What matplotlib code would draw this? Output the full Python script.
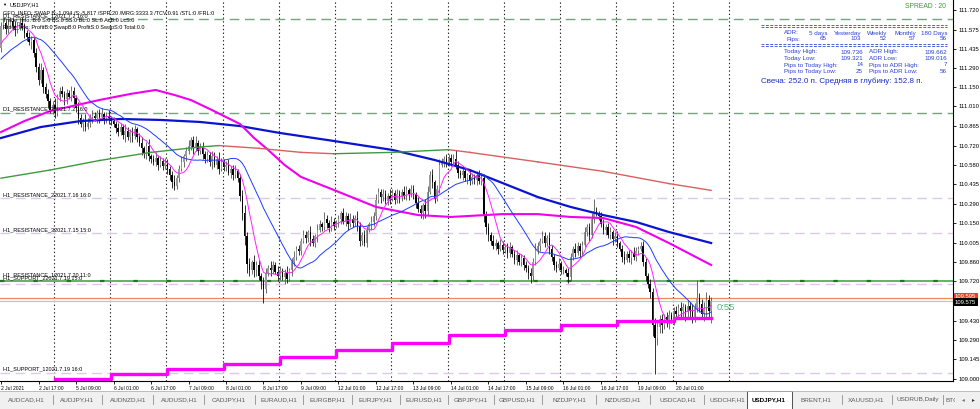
import matplotlib
matplotlib.use("Agg")
import matplotlib.pyplot as plt
from matplotlib.patches import Rectangle
from matplotlib.lines import Line2D
import numpy as np
import pandas as pd

plt.rcParams['font.family'] = ['Liberation Sans', 'DejaVu Sans']

#DATOS

#cierres H1 desde 2 Jul 01:00 (16 barras por fila)
closes = [
    111.60, 111.62, 111.58, 111.61, 111.64, 111.60, 111.57, 111.60, 111.62, 111.59, 111.55, 111.52, 111.48, 111.50, 111.40, 111.30,
    111.20, 111.28, 111.15, 111.10, 111.05, 110.98, 111.02, 110.96, 111.08, 111.12, 111.10, 111.06, 111.11, 111.08, 111.12, 111.07,
    111.00, 110.92, 110.88, 110.90, 110.86, 110.89, 110.93, 110.94, 110.92, 110.96, 110.93, 110.95, 110.91, 110.94, 110.92, 110.90,
    110.88, 110.85, 110.82, 110.86, 110.80, 110.83, 110.78, 110.82, 110.79, 110.84, 110.78, 110.74, 110.70, 110.66, 110.72, 110.64,
    110.62, 110.60, 110.63, 110.58, 110.61, 110.57, 110.59, 110.55, 110.50, 110.45, 110.42, 110.48, 110.55, 110.60, 110.64, 110.68,
    110.72, 110.76, 110.70, 110.74, 110.68, 110.71, 110.66, 110.62, 110.65, 110.60, 110.64, 110.58, 110.62, 110.55, 110.60, 110.56,
    110.58, 110.52, 110.55, 110.50, 110.53, 110.48, 110.35, 110.22, 110.05, 109.85, 109.80, 109.86, 109.80, 109.84, 109.76, 109.72,
    109.66, 109.78, 109.82, 109.80, 109.84, 109.79, 109.76, 109.80, 109.75, 109.78, 109.74, 109.80, 109.86, 109.90, 109.96, 109.94,
    110.02, 110.06, 110.04, 110.08, 110.03, 110.00, 110.05, 110.10, 110.14, 110.12, 110.18, 110.15, 110.11, 110.16, 110.13, 110.15,
    110.18, 110.22, 110.16, 110.20, 110.14, 110.18, 110.15, 110.19, 110.13, 110.02, 110.06, 110.00, 110.10, 110.14, 110.16, 110.20,
    110.32, 110.38, 110.34, 110.36, 110.31, 110.35, 110.33, 110.37, 110.32, 110.36, 110.34, 110.38, 110.35, 110.39, 110.36, 110.40,
    110.36, 110.30, 110.25, 110.22, 110.28, 110.24, 110.38, 110.50, 110.45, 110.33, 110.40, 110.58, 110.60, 110.62, 110.59, 110.63,
    110.60, 110.62, 110.58, 110.52, 110.50, 110.53, 110.48, 110.50, 110.46, 110.49, 110.47, 110.50, 110.46, 110.48, 110.20, 110.12,
    110.06, 110.02, 109.98, 110.00, 109.96, 109.99, 109.95, 109.97, 109.93, 109.97, 109.92, 109.88, 109.91, 109.86, 109.89, 109.84,
    109.82, 109.78, 109.76, 109.86, 109.95, 109.98, 110.02, 110.05, 110.00, 110.04, 109.96, 109.90, 109.84, 109.82, 109.85, 109.80,
    109.80, 109.78, 109.75, 109.90, 109.96, 109.93, 109.98, 109.94, 109.99, 110.08, 110.12, 110.06, 110.18, 110.24, 110.22, 110.20,
    110.14, 110.10, 110.12, 110.06, 110.08, 110.03, 110.05, 110.00, 109.96, 109.90, 109.88, 109.92, 109.89, 109.93, 109.90, 109.94,
    109.96, 109.98, 109.86, 109.76, 109.70, 109.64, 109.40, 109.30, 109.38, 109.44, 109.40, 109.46, 109.42, 109.47, 109.44, 109.50,
    109.48, 109.52, 109.50, 109.53, 109.49, 109.54, 109.50, 109.46, 109.52, 109.60, 109.55, 109.48, 109.52, 109.58, 109.50, 109.575,
]

#mechas en pips (0.01)
wick_up = [
    3, 4, 2, 5, 3, 2, 4, 3, 2, 5, 3, 2, 4, 3, 2, 4,
    3, 5, 2, 3, 4, 2, 3, 5, 2, 3, 4, 2, 3, 2, 4, 3,
    2, 4, 3, 2, 5, 3, 2, 4, 3, 2, 3, 5, 2, 3, 4, 2,
    3, 2, 4, 3, 2, 5, 3, 2, 4, 3, 2, 3, 4, 2, 3, 5,
    2, 3, 4, 2, 3, 2, 4, 3, 2, 3, 5, 2, 3, 4, 2, 3,
    4, 2, 3, 5, 2, 3, 4, 2, 3, 2, 4, 3, 2, 5, 3, 2,
    3, 4, 2, 3, 5, 2, 3, 4, 6, 3, 4, 2, 5, 3, 4, 2,
    3, 4, 2, 5, 3, 2, 4, 3, 2, 3, 5, 2, 3, 4, 2, 3,
    2, 4, 3, 2, 5, 3, 2, 4, 3, 2, 5, 3, 2, 4, 3, 2,
    3, 2, 4, 3, 2, 4, 3, 2, 5, 3, 2, 4, 3, 2, 4, 3,
    4, 3, 2, 4, 3, 2, 5, 3, 2, 4, 3, 2, 4, 3, 2, 3,
    3, 2, 4, 3, 2, 5, 4, 3, 5, 2, 3, 4, 3, 2, 4, 3,
    3, 4, 7, 3, 2, 4, 3, 2, 4, 3, 2, 3, 4, 2, 3, 4,
    3, 2, 4, 3, 2, 4, 3, 2, 3, 4, 2, 3, 4, 2, 3, 2,
    3, 2, 4, 3, 5, 3, 2, 4, 3, 2, 4, 3, 2, 3, 4, 2,
    3, 2, 4, 3, 2, 4, 3, 2, 3, 4, 2, 3, 4, 9, 3, 2,
    3, 4, 2, 3, 4, 2, 3, 4, 2, 3, 4, 2, 3, 2, 4, 3,
    2, 3, 4, 3, 2, 4, 3, 5, 4, 3, 4, 2, 3, 4, 2, 3,
    4, 3, 5, 3, 2, 4, 3, 5, 4, 13, 3, 4, 5, 6, 4, 3,
]
wick_dn = [
    3, 2, 4, 3, 2, 3, 4, 2, 3, 2, 4, 3, 2, 5, 3, 4,
    3, 2, 4, 3, 5, 2, 3, 4, 2, 3, 2, 4, 3, 2, 3, 4,
    3, 4, 2, 5, 3, 2, 3, 4, 2, 3, 4, 2, 3, 2, 4, 3,
    2, 4, 3, 2, 3, 5, 2, 3, 4, 2, 3, 2, 5, 3, 4, 3,
    3, 2, 3, 4, 2, 3, 2, 4, 3, 4, 3, 2, 3, 2, 4, 3,
    2, 3, 4, 2, 3, 2, 4, 3, 2, 3, 5, 2, 3, 4, 2, 3,
    3, 2, 4, 3, 2, 3, 4, 5, 6, 7, 4, 3, 5, 4, 3, 6,
    10, 3, 2, 4, 3, 2, 4, 3, 2, 5, 3, 2, 4, 3, 2, 3,
    3, 2, 4, 3, 5, 2, 3, 4, 2, 3, 2, 4, 3, 2, 3, 2,
    3, 4, 2, 3, 4, 2, 3, 2, 4, 4, 3, 2, 3, 2, 4, 3,
    3, 2, 4, 3, 2, 3, 4, 2, 3, 2, 4, 3, 2, 3, 4, 2,
    3, 4, 2, 3, 4, 5, 3, 2, 4, 3, 2, 3, 2, 4, 3, 2,
    3, 2, 3, 4, 2, 3, 2, 4, 3, 2, 3, 4, 2, 3, 4, 5,
    4, 3, 2, 3, 4, 2, 3, 2, 4, 3, 2, 3, 4, 2, 3, 4,
    3, 4, 5, 3, 2, 3, 4, 2, 3, 2, 4, 3, 4, 3, 2, 3,
    3, 2, 4, 3, 2, 3, 2, 4, 3, 2, 3, 4, 2, 3, 2, 3,
    2, 3, 4, 2, 3, 4, 2, 3, 2, 4, 3, 2, 3, 4, 2, 3,
    3, 2, 3, 4, 3, 4, 8, 26, 5, 4, 6, 3, 4, 5, 3, 4,
    4, 3, 5, 4, 6, 3, 4, 5, 4, 3, 6, 4, 5, 7, 4, 9,
]

#cierres previos al inicio del gráfico (para las medias)
pre_closes = [111.18, 111.22, 111.26, 111.24, 111.30, 111.28, 111.33, 111.30, 111.27, 111.31, 111.35, 111.32,
              111.30, 111.36, 111.38, 111.42, 111.40, 111.45, 111.43, 111.48, 111.46, 111.50, 111.44]

#medias lentas (barra, precio)
blue_slow_bars = [0, 17, 34, 51, 68, 85, 102, 119, 142, 167, 185, 200, 214, 229, 243, 257, 271, 285, 303]
blue_slow_vals = [110.776, 110.857, 110.901, 110.916, 110.909, 110.894, 110.864, 110.813, 110.754, 110.688,
                  110.614, 110.540, 110.444, 110.341, 110.268, 110.208, 110.157, 110.083, 110.002]
mag_slow_bars = [0, 10, 21, 42, 55, 66, 74, 81, 90, 102, 108, 114, 121, 128, 142, 160, 178, 192, 214, 229, 243, 257, 271, 285, 303]
mag_slow_vals = [110.820, 110.901, 110.975, 111.056, 111.100, 111.130, 111.093, 111.056, 110.982, 110.879, 110.776,
                 110.688, 110.577, 110.489, 110.393, 110.268, 110.208, 110.194, 110.215, 110.215, 110.194, 110.186,
                 110.120, 110.002, 109.840]
trend_bars = [0, 21, 42, 64, 85, 93, 110, 128, 142, 167, 191, 200, 229, 257, 285, 303]
trend_vals = [110.48, 110.54, 110.61, 110.67, 110.71, 110.72, 110.70, 110.67, 110.66, 110.67, 110.69, 110.67,
              110.60, 110.53, 110.44, 110.39]

#soporte diario escalonado
support_bars = [23, 47, 71, 95, 119, 143, 167, 191, 215, 239, 263, 287, 303]
support_vals = [109.000, 109.037, 109.074, 109.111, 109.162, 109.214, 109.265, 109.324, 109.361, 109.398,
                109.427, 109.450, 109.450]

#niveles
d1_levels = [111.653, 110.960]
h1_levels = [110.334, 110.076, 109.700, 109.044]
green_level = 109.72
ask_price = 109.595
bid_price = 109.575

day_start_bars = [23, 47, 71, 95, 119, 143, 167, 191, 215, 239, 263, 287, 311]
time_label_bars = [0, 16, 32, 48, 64, 80, 96, 112, 128, 144, 160, 176, 192, 208, 224, 240, 256, 272, 288]
time_labels = ["2 Jul 2021", "2 Jul 17:00", "5 Jul 09:00", "6 Jul 01:00", "6 Jul 17:00", "7 Jul 09:00",
               "8 Jul 01:00", "8 Jul 17:00", "9 Jul 09:00", "12 Jul 01:00", "12 Jul 17:00", "13 Jul 09:00",
               "14 Jul 01:00", "14 Jul 17:00", "15 Jul 09:00", "16 Jul 01:00", "16 Jul 17:00", "19 Jul 09:00",
               "20 Jul 01:00"]
price_ticks = [111.720, 111.575, 111.435, 111.290, 111.150, 111.010, 110.865, 110.720, 110.580, 110.435,
               110.290, 110.150, 110.005, 109.860, 109.720, 109.430, 109.290, 109.145, 109.000]

tab_names = ["AUDCAD,H1", "AUDJPY,H1", "AUDNZD,H1", "AUDUSD,H1", "CADJPY,H1", "EURAUD,H1", "EURGBP,H1",
             "EURJPY,H1", "EURUSD,H1", "GBPJPY,H1", "GBPUSD,H1", "NZDJPY,H1", "NZDUSD,H1", "USDCAD,H1",
             "USDCHF,H1", "USDJPY,H1", "BRENT,H1", "XAUUSD,H1", "USDRUB,Daily", "BTC"]
ACTIVE_TAB = "USDJPY,H1"

adr_heads = ["5 days", "Yesterday", "Weekly", "Monthly", "180 Days"]
adr_pips = ["65", "103", "52", "57", "56"]

#LAYOUT
W, H = 980, 409
TAB_X = [26, 77, 128, 179, 229, 279, 328, 376, 424, 471, 517, 569, 623, 678, 727, 769, 816, 866, 918, 951]
TAB_SEP = [53, 102, 153, 204, 255, 303, 352, 400, 448, 494, 542, 596, 650, 704, 842, 892, 943]
ADR_COL_X = [827, 861, 887, 916, 947]
FS = 4.0


def px(x, y):
    return x / W, 1 - y / H


def ftext(x, y, s, **kw):
    kw.setdefault('fontsize', FS)
    kw.setdefault('va', 'center')
    return fig.text(*px(x, y), s, **kw)


fig = plt.figure(figsize=(W / 100, H / 100), dpi=100)
ax = fig.add_axes([0, 28 / H, 953 / W, 381 / H])
ax.set_xlim(-0.43, 406.2)
ax.set_ylim(108.985, 111.793)

#velas
c = np.array(closes)
o = np.concatenate([[pre_closes[-1]], c[:-1]])
hi = np.maximum(o, c) + np.array(wick_up) / 100
lo = np.minimum(o, c) - np.array(wick_dn) / 100
idx = np.arange(len(c))
bull = c >= o
ax.vlines(idx[bull], lo[bull], hi[bull], color='#555555', lw=0.6, zorder=3)
ax.vlines(idx[~bull], lo[~bull], hi[~bull], color='#111111', lw=0.6, zorder=3)
body = np.maximum(np.abs(c - o), 0.004)
ax.bar(idx[bull], body[bull], bottom=np.minimum(o, c)[bull], width=0.62, color='#9a9a9a', zorder=4)
ax.bar(idx[~bull], body[~bull], bottom=np.minimum(o, c)[~bull], width=0.62, color='#000000', zorder=4)

#medias rápidas
serie = pd.Series(pre_closes + closes)
sma24 = serie.rolling(24).mean().to_numpy()[len(pre_closes):]
sma8 = serie.rolling(8).mean().to_numpy()[len(pre_closes):]
ax.plot(idx, sma24, color='#1f3cff', lw=0.7, zorder=6)
ax.plot(idx, sma8, color='#ff22ff', lw=0.7, zorder=6)

#medias lentas
ax.plot(blue_slow_bars, blue_slow_vals, color='#0a14d0', lw=1.6, zorder=5)
ax.plot(mag_slow_bars, mag_slow_vals, color='#f000f0', lw=1.5, zorder=5)
for i in range(len(trend_bars) - 1):
    col = '#3f9a3f' if trend_vals[i + 1] >= trend_vals[i] else '#d86060'
    ax.plot(trend_bars[i:i + 2], trend_vals[i:i + 2], color=col, lw=1.0, zorder=5)

ax.plot(support_bars, support_vals, drawstyle='steps-post', color='#ff00ff', lw=2.4, zorder=5)

#niveles horizontales
for lvl in d1_levels:
    ax.axhline(lvl, color='#72a682', lw=1.0, ls=(0, (7, 4)), zorder=2)
for lvl in h1_levels:
    ax.axhline(lvl, color='#dcc8e8', lw=1.0, ls=(0, (7, 4)), zorder=2)
ax.axhline(green_level, color='#3c9c3c', lw=1.1, zorder=2)
ax.axhline(green_level, color='#1c7a1c', lw=1.6, ls=(0, (2, 13)), zorder=2)
ax.axhline(ask_price, color='#ee8a5a', lw=0.9, zorder=2)
ax.axhline(bid_price, color='#c4c4c4', lw=0.9, zorder=2)

#separadores de días
for b in day_start_bars:
    ax.axvline(b - 0.45, color='#222222', lw=0.8, ls=(0, (1.2, 2.2)), zorder=1)

ax.text(len(c) + 1.5, 109.53, "0:55", color='#5cb67e', fontsize=6.8, va='center', zorder=7)

#ejes
for s in ['top', 'left']:
    ax.spines[s].set_visible(False)
ax.spines['right'].set_linewidth(0.8)
ax.spines['bottom'].set_linewidth(0.8)
ax.yaxis.tick_right()
ax.set_yticks(price_ticks)
ax.set_yticklabels([f"{v:.3f}" for v in price_ticks])
ax.tick_params(axis='y', length=2, width=0.6, pad=2, labelsize=4.2)
ax.set_xticks(time_label_bars)
ax.set_xticklabels(time_labels)
ax.tick_params(axis='x', length=2, width=0.6, pad=1.5, labelsize=3.6)
for lab in ax.get_xticklabels():
    lab.set_ha('left')

#cajas de precio
ftext(955, 297, "109.595", color='white', fontsize=4.2,
      bbox=dict(boxstyle='square,pad=0.25', fc='#e8461a', ec='none'))
ftext(955, 302, "109.575", color='white', fontsize=4.2,
      bbox=dict(boxstyle='square,pad=0.25', fc='black', ec='none'))

#textos arriba a la izquierda
ftext(2, 5, "▼", fontsize=3)
ftext(10, 5, "USDJPY,H1")
ftext(3, 13, "GFO_INFO: SWAP B:-1.094 /S:-5.817 /SPR:20 /MRG:3333.3 /TCV:0.91 /STL:0 /FRL:0")
ftext(3, 16, "D1_RESISTANCE_12021.7.2 16:0")
ftext(3, 20, "Trade_Info: B:0 S:0 BS:0 SS:0 BL:0 SL:0 AcB:0 LcS:0")
ftext(3, 27, "Profit_Info: ProfitB:0 SwapB:0 ProfitS:0 SwapS:0 Total:0.0")

#etiquetas de niveles
ftext(3, 109, "D1_RESISTANCE_22021.7.2 16:0")
ftext(3, 195, "H1_RESISTANCE_22021.7.16 16:0")
ftext(3, 230, "H1_RESISTANCE_32021.7.15 15:0")
ftext(3, 275, "H1_RESISTANCE_12021.7.20 11:0")
ftext(3, 278, "H1_SUPPORT_22021.7.19 15:0")
ftext(3, 369, "H1_SUPPORT_12021.7.19 16:0")

#panel ADR
BLUE = '#2a3fd0'
ftext(946, 6, "SPREAD : 20", color='#3a9d3a', fontsize=4.9, ha='right')
for yy in (25, 27, 43.5, 45.5):
    fig.add_artist(Line2D([761 / W, 947 / W], [1 - yy / H] * 2, color='#5060d8', lw=0.7,
                          ls=(0, (3, 1.5)), transform=fig.transFigure))
ftext(799, 33, "ADR:", color=BLUE, fontsize=4.5, ha='right')
ftext(800, 39, "Pips:", color=BLUE, fontsize=4.5, ha='right')
for xx, hd, pp in zip(ADR_COL_X, adr_heads, adr_pips):
    ftext(xx, 33, hd, color=BLUE, fontsize=4.5, ha='right')
    ftext(xx, 39, pp, color=BLUE, fontsize=4.5, ha='right')
rows = [("Today High:", "109.736", "ADR High:", "109.662"),
        ("Today Low:", "109.321", "ADR Low:", "109.016"),
        ("Pips to Today High:", "14", "Pips to ADR High:", "7"),
        ("Pips to Today Low:", "25", "Pips to ADR Low:", "56")]
for yy, (a, b, cc, d) in zip([52, 58.5, 65, 71.5], rows):
    ftext(784, yy, a, color=BLUE, fontsize=4.5)
    ftext(863, yy, b, color=BLUE, fontsize=4.5, ha='right')
    ftext(869, yy, cc, color=BLUE, fontsize=4.5)
    ftext(947, yy, d, color=BLUE, fontsize=4.5, ha='right')
ftext(761, 81, "Свеча: 252.0 п. Средняя в глубину: 152.8 п.", color='#1a2cc4', fontsize=5.8)

#barra de pestañas
fig.add_artist(Rectangle((0, 0), 1, 18 / H, transform=fig.transFigure, fc='#f0f0f0', ec='none'))
fig.add_artist(Line2D([0, 1], [18 / H, 18 / H], color='#b4b4b4', lw=0.6, transform=fig.transFigure))
fig.add_artist(Rectangle((747 / W, 0), 45 / W, 18.5 / H, transform=fig.transFigure,
                         fc='white', ec='#505050', lw=0.7))
for sx in TAB_SEP:
    fig.add_artist(Line2D([sx / W] * 2, [1 - 404 / H, 1 - 395 / H], color='#909090', lw=0.6,
                          transform=fig.transFigure))
for tx, name in zip(TAB_X, tab_names):
    if name == ACTIVE_TAB:
        ftext(tx, 400, name, color='black', fontsize=4.5, ha='center', fontweight='bold')
    elif name == "BTC":
        t = ftext(945, 400, name, color='#5a5a5a', fontsize=4.6, ha='left')
        t.set_clip_path(Rectangle((0, 0), 955 / W, 1, transform=fig.transFigure))
    else:
        ftext(tx, 400, name, color='#5a5a5a', fontsize=4.6, ha='center')
ftext(963, 400, "◂", color='#707070', fontsize=4, ha='center')
ftext(973, 400, "▸", color='#303030', fontsize=4, ha='center')

fig.savefig("out.png", dpi=100)
